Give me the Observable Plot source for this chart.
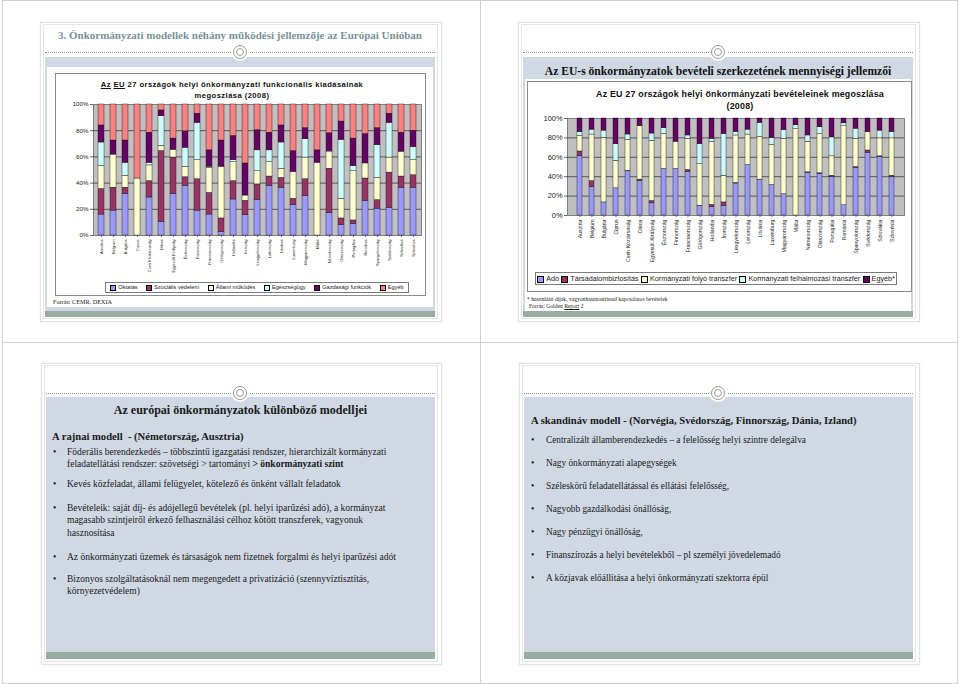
<!DOCTYPE html>
<html><head><meta charset="utf-8">
<script src="https://cdn.jsdelivr.net/npm/d3@7"></script>
<script src="https://cdn.jsdelivr.net/npm/@observablehq/plot@0.6"></script>
<style>
body{margin:0;width:960px;height:684px;position:relative;background:#fff;overflow:hidden;font-family:"Liberation Serif","Times New Roman",serif;color:#1a1a1a;}
.a{position:absolute;}
.line{position:absolute;background:#d0d0d0;}
.slide{position:absolute;border:1px solid #e3e3e3;background:#fff;box-shadow:0 0 2px #e8e8e8;}
.inner{position:absolute;border:1px solid #e6e6e6;}
.blue{position:absolute;background:#cfd8e3;}
.green{position:absolute;background:#98aca1;}
.dots{position:absolute;height:0;border-top:1px dotted #8a8a8a;}
.ring{position:absolute;width:12px;height:12px;border-radius:50%;background:#fff;border:1.5px solid #9a9a9a;box-shadow:0 0 0 2px #fff;}
.ring:after{content:"";position:absolute;left:2px;top:2px;width:6px;height:6px;border-radius:50%;border:1px solid #9a9a9a;}
.sans{font-family:"Liberation Sans",Arial,sans-serif;}
.legend{position:absolute;border:1px solid #7a7a7a;background:#fff;display:flex;align-items:center;justify-content:space-around;white-space:nowrap;font-family:"Liberation Sans",Arial,sans-serif;color:#222;}
.legend span.sw{display:inline-block;border:0.5px solid #000;margin-right:2px;vertical-align:middle;}
.txt{position:absolute;white-space:nowrap;}
.bul{position:absolute;}
</style></head>
<body>
<script>
// ---------- DATA ----------
const countries = ["Ausztria","Belgium","Bulgária","Ciprus","Cseh Köztársaság","Dánia","Egyesült Királyság","Észtország","Finnország","Franciaország","Görögország","Hollandia","Írország","Lengyelország","Lettország","Litvánia","Luxemburg","Magyarország","Málta","Németország","Olaszország","Portugália","Románia","Spanyolország","Svédország","Szlovákia","Szlovénia"];

// Left chart: functional expenditure shares (%)
const seriesL = ["Oktatás","Szociális védelem","Állami működés","Egészségügy","Gazdasági funkciók","Egyéb"];
const colorsL = ["#9999ff","#993366","#ffffcc","#ccffff","#660066","#ff8080"];
const oktatas   = [16,19,31.5,0,29,10.5,31.5,38,19,16,2.5,27.5,15.5,27,38,36.5,23.5,30,0,17,8,9,26.5,20.5,21,36.5,36.5];
const szocialis = [19.5,17.5,5,0,12.5,54,28,6.5,24,16.5,10.5,14,11,12,7,7.5,4.5,13,0,34,5,2.5,17,6.5,27,8.5,9.5];
const allami    = [17.5,25,9,43.5,12,4,6,8,14.5,19,39.5,14.5,4,10,11,7,20.5,16.5,55.5,12.5,15,37.5,11.5,17,11.5,19,11.5];
const egeszseg  = [18,0.5,10,0,2,22.5,0,14.5,28.5,1,0,1.5,0,16,9,20,0,14,0,1,45,4,0,25,26.5,0,10];
const gazdasagi = [13,10.5,17,0,23,4.5,8.5,12.5,7,12.5,20,18.5,24.5,15.5,13.5,13,16,8.5,9.5,13.5,14,21,22.5,13,7,14.5,12.5];
const egyebL    = [16,27.5,27.5,56.5,21.5,4.5,26,20.5,7,35,27.5,24,45,19.5,21.5,16,35.5,18,35,22,13,26,22.5,18,7,21.5,20];

// Right chart: revenue structure shares (%)
const seriesR = ["Adó","Társadalombiztosítás","Kormányzati folyó transzfer","Kormányzati felhalmozási transzfer","Egyéb*"];
const colorsR = ["#9999ff","#993366","#ffffcc","#ccffff","#660066"];
const ado        = [61,29.5,13.5,28,45.5,35.5,12.5,48,48,45,9.5,8.5,10,33,52,37,31.5,22,0,44,43,40,10.5,49,64.5,60.5,40];
const tarsadalom = [5,6,0,0,0.5,1.5,2.5,0,0,2,0.5,2.5,3.5,0.5,0,0,0,0,0,0.5,0.5,1,0,1,2.5,0.5,1];
const folyo      = [16,48,66.5,28.5,32,55,62,36,28,32,43,65,27.5,49,31.5,44,41.5,57,89,31.5,40.5,20,81.5,29,19,18.5,38.5];
const felhalm    = [4,5,7.5,17,5.5,0,7.5,6,0,3.5,20.5,3,43,3.5,5,14.5,7,9,4,6.5,7,19.5,3,10.5,0,8,6.5];
const egyebR     = [14,11.5,12.5,26.5,16.5,8,15.5,10,24,17.5,26.5,21,16,14,11.5,4.5,20,12,7,17.5,9,19.5,5,10.5,14,12.5,14];

const yTicks = [0,20,40,60,80,100];
const gridTicks = [20,40,60,80];

// ---------- HELPERS ----------
function el(tag, cls, style, html){
  const e = document.createElement(tag);
  if(cls) e.className = cls;
  Object.assign(e.style, style||{});
  if(html!==undefined) e.innerHTML = html;
  document.body.appendChild(e);
  return e;
}
function px(o){ const r={}; for(const k in o) r[k]= typeof o[k]==="number"? o[k]+"px": o[k]; return r; }
function box(cls,x,y,w,h,extra){ return el("div",cls,px(Object.assign({left:x,top:y,width:w,height:h},extra||{}))); }

// page grid
box("line",2,0,955,1); box("line",2,683,955,1); box("line",2,0,1,684); box("line",957,0,1,684);
box("line",480,0,1,684); box("line",2,342,955,1);

function slide(x,y,w,h,dotY,blueTop,greenTop,greenH){
  box("slide",x,y,w,h);
  box("inner",x+3,y+2,w-7,h-5);
  box("dots",x+5,dotY,w-10,0);
  box("blue",x+5,blueTop,w-10,greenTop-blueTop);
  box("green",x+5,greenTop,w-10,greenH);
  box("ring",x+w/2-7.5,dotY-7.5,12,12);
}
slide(40,22,400,298,52,57,311,6);
slide(518,22,400,298,52,57,311,6);
slide(41,363,399,300,393,397,652,7);
slide(519,363,399,300,393,397,652,7);

// ---------- TOP-LEFT SLIDE ----------
el("div","txt",px({left:45,top:28,width:390,textAlign:"center",fontSize:11,fontWeight:"bold",color:"#7b9199",lineHeight:14}),
  "3. Önkormányzati modellek néhány működési jellemzője az Európai Unióban");
box("a",47,67,386,240,{background:"#fff"});
box("a",55,73,369,221,{border:"1px solid #8c8c8c"});
el("div","txt sans",px({left:47,top:79,width:370,textAlign:"center",fontSize:7.6,fontWeight:"bold",lineHeight:11,letterSpacing:0.45,color:"#111"}),
  "<u>Az</u> <u>EU</u> 27 országok helyi önkormányzati funkcionális kiadásainak<br>megoszlása (2008)");

function longData(series, arrays){
  const out=[];
  series.forEach((s,i)=>countries.forEach((c,j)=>{ if(arrays[i][j]>0) out.push({country:c, series:s, value:arrays[i][j]}); }));
  return out;
}
const dataL = longData(seriesL,[oktatas,szocialis,allami,egeszseg,gazdasagi,egyebL]);
const dataR = longData(seriesR,[ado,tarsadalom,folyo,felhalm,egyebR]);

function chart(data, series, colors, o){
  return Plot.plot({
    width:o.width, height:o.height,
    marginLeft:o.ml, marginRight:o.mr, marginTop:o.mt, marginBottom:o.mb,
    x:{domain:countries, paddingInner:o.pi, paddingOuter:o.po, axis:null, label:null},
    y:{domain:[0,100], axis:null, label:null},
    color:{domain:series, range:colors},
    style:{fontFamily:"Liberation Sans, Arial, sans-serif", background:"transparent", color:"#222", overflow:"visible"},
    marks:[
      Plot.frame({fill:"#c0c0c0", stroke:"#808080"}),
      Plot.gridY(gridTicks,{stroke:"#111", strokeOpacity:0.75, strokeWidth:0.8}),
      Plot.barY(data,{x:"country", y:"value", fill:"series", stroke:"#111", strokeWidth:0.4, order:series}),
      Plot.axisY(yTicks,{tickFormat:d=>d+"%", fontSize:o.yfs, tickSize:3, tickPadding:2, stroke:"#666", label:null}),
      Plot.axisX({tickRotate:-90, fontSize:o.xfs, tickSize:2, tickPadding:2, stroke:"#666", label:null})
    ]
  });
}
const svgL = chart(dataL, seriesL, colorsL, {width:370,height:180,ml:38,mr:4,mt:4,mb:45,pi:0.5,po:0.25,yfs:6.2,xfs:4});
Object.assign(svgL.style, px({position:"absolute",left:55,top:100}));
document.body.appendChild(svgL);

function legend(x,y,w,h,series,colors,fs,sw){
  const d = box("legend",x,y,w,h,{fontSize:fs+"px"});
  series.forEach((s,i)=>{
    const it=document.createElement("span");
    it.innerHTML=`<span class="sw" style="width:${sw}px;height:${sw}px;background:${colors[i]}"></span>${s}`;
    d.appendChild(it);
  });
}
legend(105,282,302,9,seriesL,colorsL,5.6,4);
el("div","txt",px({left:53,top:298,fontSize:6.2,lineHeight:8}),"Forrás: CEMR, DEXIA");

// ---------- TOP-RIGHT SLIDE ----------
el("div","txt",px({left:523,top:64,width:390,textAlign:"center",fontSize:11.6,fontWeight:"bold",lineHeight:16,color:"#111"}),
  "Az EU-s önkormányzatok bevételi szerkezetének mennyiségi jellemzői");
box("a",525,79,386,232,{background:"#fff"});
box("a",527,81,383,209,{border:"1px solid #8c8c8c"});
el("div","txt sans",px({left:580,top:88,width:320,textAlign:"center",fontSize:8.9,fontWeight:"bold",lineHeight:12,letterSpacing:0.2,color:"#111"}),
  "Az EU 27 országok helyi önkormányzati bevételeinek megoszlása<br>(2008)");
const svgR = chart(dataR, seriesR, colorsR, {width:388,height:160,ml:42,mr:9,mt:6,mb:57,pi:0.57,po:0.22,yfs:7.4,xfs:5.2});
Object.assign(svgR.style, px({position:"absolute",left:525,top:112}));
document.body.appendChild(svgR);
legend(535,272,360,11,seriesR,colorsR,7.2,5);
el("div","txt",px({left:527,top:296,fontSize:5.6,lineHeight:7}),"* használati díjak, vagyonhasznosítással kapcsolatos bevételek");
el("div","txt",px({left:529,top:303,fontSize:5.6,lineHeight:7}),"Forrás: Golden <u>Report</u> 2");

// ---------- BOTTOM-LEFT SLIDE ----------
el("div","txt",px({left:45,top:402,width:391,textAlign:"center",fontSize:12,fontWeight:"bold",lineHeight:16}),
  "Az európai önkormányzatok különböző modelljei");
el("div","txt",px({left:52,top:430,fontSize:10.6,fontWeight:"bold",lineHeight:14}),"A rajnai modell&nbsp; - (Németország, Ausztria)");
const itemsL = [
  {y:452, lines:["Föderális berendezkedés – többszintű igazgatási rendszer, hierarchizált kormányzati","feladatellátási rendszer: szövetségi &gt; tartományi <b>&gt; önkormányzati szint</b>"]},
  {y:484, lines:["Kevés közfeladat, állami felügyelet, kötelező és önként vállalt feladatok"]},
  {y:508, lines:["Bevételeik: saját díj- és adójellegű bevételek (pl. helyi iparűzési adó), a kormányzat","magasabb szintjeiről érkező felhasználási célhoz kötött transzferek, vagyonuk","hasznosítása"]},
  {y:557, lines:["Az önkormányzati üzemek és társaságok nem fizetnek forgalmi és helyi iparűzési adót"]},
  {y:579, lines:["Bizonyos szolgáltatásoknál nem megengedett a privatizáció (szennyvíztisztítás,","környezetvédelem)"]}
];
itemsL.forEach(it=>{
  el("div","bul",px({left:53,top:it.y-7,fontSize:9.5,lineHeight:14}),"•");
  el("div","txt",px({left:67,top:it.y-6.5,fontSize:9.5,lineHeight:12.8}),it.lines.join("<br>"));
});

// ---------- BOTTOM-RIGHT SLIDE ----------
el("div","txt",px({left:531,top:414,fontSize:10.6,fontWeight:"bold",lineHeight:14}),
  "A skandináv modell - (Norvégia, Svédország, Finnország, Dánia, Izland)");
const itemsR = [
  {y:440, t:"Centralizált államberendezkedés – a felelősség helyi szintre delegálva"},
  {y:463, t:"Nagy önkormányzati alapegységek"},
  {y:486, t:"Széleskörű feladatellátással és ellátási felelősség,"},
  {y:509, t:"Nagyobb gazdálkodási önállóság,"},
  {y:532, t:"Nagy pénzügyi önállóság,"},
  {y:555, t:"Finanszírozás a helyi bevételekből – pl személyi jövedelemadó"},
  {y:578, t:"A közjavak előállítása a helyi önkormányzati szektorra épül"}
];
itemsR.forEach(it=>{
  el("div","bul",px({left:531,top:it.y-7,fontSize:9.5,lineHeight:14}),"•");
  el("div","txt",px({left:546,top:it.y-6.5,fontSize:9.3,lineHeight:13}),it.t);
});
</script>
</body></html>
